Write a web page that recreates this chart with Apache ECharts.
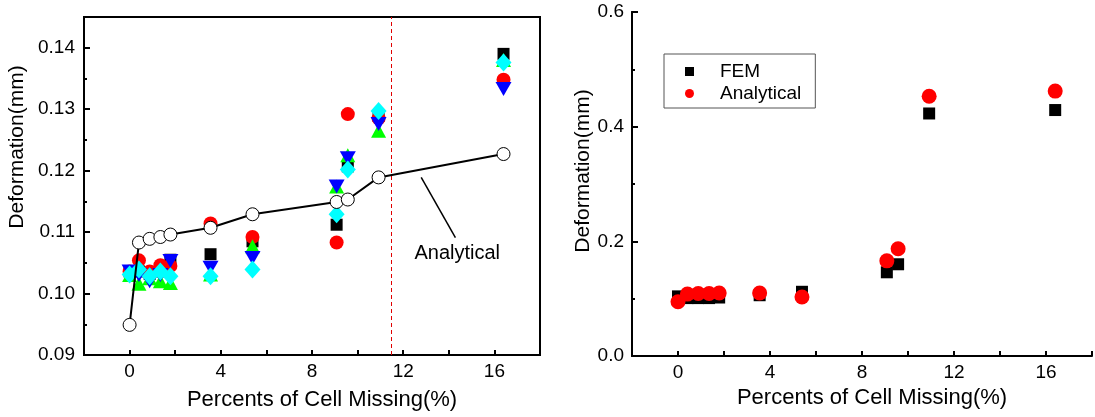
<!DOCTYPE html>
<html><head><meta charset="utf-8">
<script src="https://cdn.jsdelivr.net/npm/echarts@6/dist/echarts.min.js"></script>
<style>html,body{margin:0;padding:0;background:#fff}#c{width:1095px;height:417px}</style>
</head><body><div id="c"></div>
<script>
// ---------- data ----------
const xPct = [0, 0.41, 0.88, 1.35, 1.79, 3.55, 5.39, 9.08, 9.57, 10.92, 16.40];
// left panel
const leftBlack = [0.1036, 0.1036, 0.1032, 0.1036, 0.1055, 0.1064, 0.1085, 0.1112, 0.1207, 0.1289, 0.1390];
const leftRed   = [0.1036, 0.1054, 0.1036, 0.1046, 0.1045, 0.1114, 0.1092, 0.1083, 0.1292, 0.1285, 0.1348];
const leftGreen = [0.1030, 0.1016, 0.1025, 0.1020, 0.1017, 0.1031, 0.1077, 0.1174, 0.1225, 0.1265, 0.1380];
const leftBlue  = [0.1036, 0.1030, 0.1020, 0.1030, 0.1053, 0.1042, 0.1058, 0.1174, 0.1220, 0.1276, 0.1333];
const leftCyan  = [0.1031, 0.1039, 0.1028, 0.1036, 0.1028, 0.1028, 0.1039, 0.1129, 0.1202, 0.1297, 0.1376];
const leftAnalytical = [0.0949, 0.1083, 0.1089, 0.1092, 0.1096, 0.1107, 0.1129, 0.1149, 0.1153, 0.1189, 0.1227];
// right panel
const rightFEM        = [0.104, 0.101, 0.101, 0.101, 0.102, 0.106, 0.112, 0.146, 0.160, 0.423, 0.429];
const rightAnalytical = [0.0947, 0.108, 0.109, 0.109, 0.110, 0.110, 0.103, 0.166, 0.187, 0.453, 0.462];
// tick labels
const xMajorTicks = [0, 4, 8, 12, 16];
const leftYMajor = [0.09, 0.10, 0.11, 0.12, 0.13, 0.14];
const rightYMajor = [0, 0.2, 0.4, 0.6];
// annotations
const cutoffX = 11.47;
const annotText = 'Analytical';
const annotPos = [14.37, 0.1065];
const arrowFrom = [14.29, 0.1091];
const arrowTo = [12.79, 0.1189];
const xTitle = 'Percents of Cell Missing(%)';
const yTitle = 'Deformation(mm)';

// ---------- chart ----------
const FONT = 'Arial, "Liberation Sans", sans-serif';
const pts = ys => xPct.map((x, i) => [x, ys[i]]);
const BLACK = '#000';
const TICK_FS = 19;
const AXIS_LINE = {show: true, onZero: false, lineStyle: {color: BLACK, width: 2}};
const isMajor = (v, list) => list.some(t => Math.abs(t - v) < 1e-9);

function xAxis(gi, nameGap) {
  return {
    gridIndex: gi, type: 'value', min: -2, max: 18, interval: 2, position: 'bottom',
    axisLine: AXIS_LINE,
    axisTick: {show: true, inside: true, length: 5, lineStyle: {color: BLACK, width: 2}},
    minorTick: {show: false},
    axisLabel: {fontSize: TICK_FS, color: BLACK, margin: 7, fontFamily: FONT, showMinLabel: true, showMaxLabel: true,
      formatter: v => isMajor(v, xMajorTicks) ? String(v) : ''},
    splitLine: {show: false},
    name: xTitle, nameLocation: 'middle', nameGap: nameGap,
    nameTextStyle: {fontSize: 22, color: BLACK, fontFamily: FONT, padding: [0, 0, 0, 20]}
  };
}
function yAxes(gi, min, max, step, major, digits, nameGap, namePad, labelMargin) {
  return [{
    gridIndex: gi, type: 'value', min: min, max: max, interval: step, position: 'left',
    axisLine: AXIS_LINE,
    axisTick: {show: true, inside: true, length: 6, lineStyle: {color: BLACK, width: 2}},
    axisLabel: {fontSize: TICK_FS, color: BLACK, margin: labelMargin, fontFamily: FONT, showMinLabel: true, showMaxLabel: true,
      formatter: v => isMajor(v, major) ? Number(v).toFixed(digits) : ''},
    splitLine: {show: false},
    name: yTitle, nameLocation: 'middle', nameGap: nameGap,
    nameTextStyle: {fontSize: 21, color: BLACK, fontFamily: FONT, padding: namePad}
  }, {
    gridIndex: gi, type: 'value', min: min, max: max, interval: step / 2, position: 'left',
    axisLine: AXIS_LINE,
    axisTick: {show: true, inside: true, length: 3, lineStyle: {color: BLACK, width: 2}},
    axisLabel: {show: false}, splitLine: {show: false}
  }];
}
const solid = c => ({color: c, opacity: 1});

const option = {
  animation: false,
  backgroundColor: '#fff',
  textStyle: {fontFamily: FONT},
  grid: [
    {left: 84, top: 17, width: 456, height: 338, show: true, borderColor: BLACK, borderWidth: 2, backgroundColor: 'transparent'},
    {left: 632, top: 12, width: 465, height: 344}
  ],
  legend: {
    data: ['FEM', 'Analytical'],
    left: 664, top: 54, orient: 'vertical',
    padding: [8, 14, 5, 21], itemGap: 3, itemWidth: 9, itemHeight: 9,
    borderColor: '#555', borderWidth: 1, borderRadius: 0,
    textStyle: {fontSize: 19, color: BLACK, fontFamily: FONT, padding: [0, 0, 0, 21]},
    selectedMode: false
  },
  xAxis: [xAxis(0, 34), xAxis(1, 29)],
  yAxis: [
    ...yAxes(0, 0.09, 0.145, 0.01, leftYMajor, 2, 56, [0, 0, 0, 78], 9),
    ...yAxes(1, 0, 0.6, 0.2, rightYMajor, 1, 34, [0, 0, 0, 26], 8)
  ],
  series: [
    {name: 'Set A', type: 'scatter', xAxisIndex: 0, yAxisIndex: 0, data: pts(leftBlack),
     symbol: 'rect', symbolSize: 12, itemStyle: solid('#000'),
     markLine: {silent: true, symbol: ['none', 'none'], label: {show: false},
       lineStyle: {color: '#e00000', type: [4, 3], width: 1}, data: [{xAxis: cutoffX}]}},
    {name: 'Set B', type: 'scatter', xAxisIndex: 0, yAxisIndex: 0, data: pts(leftRed),
     symbol: 'circle', symbolSize: 14, itemStyle: solid('#ff0000')},
    {name: 'Set C', type: 'scatter', xAxisIndex: 0, yAxisIndex: 0, data: pts(leftGreen),
     symbol: 'triangle', symbolSize: [15, 14], itemStyle: solid('#00ff00')},
    {name: 'Set D', type: 'scatter', xAxisIndex: 0, yAxisIndex: 0, data: pts(leftBlue),
     symbol: 'triangle', symbolRotate: 180, symbolSize: [16, 14], itemStyle: solid('#0000ff')},
    {name: 'Set E', type: 'scatter', xAxisIndex: 0, yAxisIndex: 0, data: pts(leftCyan),
     symbol: 'diamond', symbolSize: [16, 18], itemStyle: solid('#00ffff')},
    {name: 'Analytical (left)', type: 'line', xAxisIndex: 0, yAxisIndex: 0, data: pts(leftAnalytical),
     symbol: 'circle', symbolSize: 13, z: 5,
     itemStyle: {color: '#fff', borderColor: '#000', borderWidth: 1, opacity: 1},
     lineStyle: {color: '#000', width: 2},
     markLine: {silent: true, symbol: ['none', 'arrow'], symbolSize: [0, 10], label: {show: false},
       lineStyle: {color: '#000', type: 'solid', width: 1.5},
       data: [[{coord: arrowFrom}, {coord: arrowTo}]]},
     markPoint: {silent: true, symbol: 'circle', symbolSize: 1,
       itemStyle: {color: 'transparent'},
       label: {show: true, position: 'inside', color: '#000', fontSize: 20, fontFamily: FONT, formatter: annotText},
       data: [{coord: annotPos}]}},
    {name: 'FEM', type: 'scatter', xAxisIndex: 1, yAxisIndex: 2, data: pts(rightFEM),
     symbol: 'rect', symbolSize: 12, itemStyle: solid('#000')},
    {name: 'Analytical', type: 'scatter', xAxisIndex: 1, yAxisIndex: 2, data: pts(rightAnalytical),
     symbol: 'circle', symbolSize: 15, itemStyle: solid('#ff0000')}
  ]
};
const chart = echarts.init(document.getElementById('c'), null, {renderer: 'canvas'});
chart.setOption(option);
</script>
</body></html>
